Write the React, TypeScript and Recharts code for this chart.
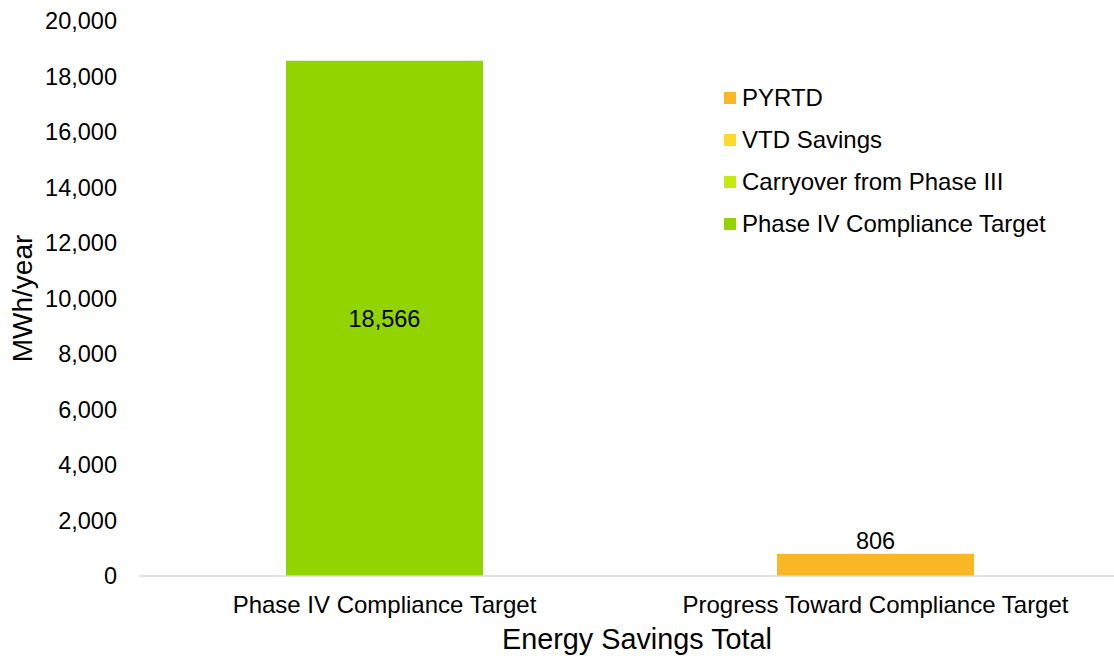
import React from 'react';
import { BarChart, Bar, XAxis, YAxis, Legend, LabelList, Label } from 'recharts';

const categories = ['Phase IV Compliance Target', 'Progress Toward Compliance Target'];
const phaseIVTarget = [18566, 0];
const carryover = [0, 0];
const vtdSavings = [0, 0];
const pyrtd = [0, 806];
const yTicks = [0, 2000, 4000, 6000, 8000, 10000, 12000, 14000, 16000, 18000, 20000];

const seriesDefs = [
  { key: 'phaseIV', name: 'Phase IV Compliance Target', color: '#92D400', values: phaseIVTarget },
  { key: 'carryover', name: 'Carryover from Phase III', color: '#C6E912', values: carryover },
  { key: 'vtd', name: 'VTD Savings', color: '#FDDA2C', values: vtdSavings },
  { key: 'pyrtd', name: 'PYRTD', color: '#F9B625', values: pyrtd },
];

const data = categories.map((c, i) => {
  const row: any = { category: c };
  seriesDefs.forEach((s) => (row[s.key] = s.values[i]));
  return row;
});

const FONT = '"Liberation Sans", Arial, Helvetica, sans-serif';
const fmt = (v: any) => Number(v).toLocaleString('en-US');
const labelFmt = (v: any) => (Number(v) > 0 ? fmt(v) : '');

const LegendContent = () => (
  <div style={{ fontFamily: FONT, fontSize: 24, color: '#000' }}>
    {[...seriesDefs].reverse().map((s) => (
      <div key={s.key} style={{ height: 42, display: 'flex', alignItems: 'center', whiteSpace: 'nowrap' }}>
        <span style={{ display: 'inline-block', width: 12, height: 12, background: s.color, marginRight: 6 }} />
        <span>{s.name}</span>
      </div>
    ))}
  </div>
);

const YTitle = (props: any) => {
  const vb = props.viewBox || {};
  const cy = vb.y + vb.height / 2;
  return (
    <text x={22} y={cy} transform={`rotate(-90, 22, ${cy})`} textAnchor="middle" dominantBaseline="central"
      style={{ fontFamily: FONT, fontSize: 28 }} fill="#000">
      MWh/year
    </text>
  );
};

const XTitle = (props: any) => {
  const vb = props.viewBox || {};
  const cx = vb.x + vb.width / 2 + 7;
  return (
    <text x={cx} y={vb.y + 63} textAnchor="middle" dominantBaseline="central"
      style={{ fontFamily: FONT, fontSize: 28.8 }} fill="#000">
      Energy Savings Total
    </text>
  );
};

export default function App() {
  return (
    <div style={{ position: 'fixed', left: 0, top: 0, width: 1114, height: 656, overflow: 'hidden', background: '#fff' }}>
      <BarChart width={1121} height={656} data={data} margin={{ top: 21, right: 0, left: 0, bottom: 0 }}
        style={{ fontFamily: FONT }}>
        <XAxis dataKey="category" height={80} tickLine={false} tickSize={0} tickMargin={20}
          axisLine={{ stroke: '#D9D9D9', strokeWidth: 1.5 }}
          tick={{ fill: '#000', fontSize: 24, fontFamily: FONT }}>
          <Label content={<XTitle />} />
        </XAxis>
        <YAxis width={139} domain={[0, 20000]} ticks={yTicks} tickFormatter={fmt} axisLine={false}
          tickLine={false} tickSize={0} tickMargin={22} interval={0}
          tick={{ fill: '#000', fontSize: 23.5, fontFamily: FONT }}>
          <Label content={<YTitle />} />
        </YAxis>
        <Legend layout="vertical" align="center" verticalAlign="middle" content={<LegendContent />}
          wrapperStyle={{ left: 724, top: 77, right: 'auto', bottom: 'auto', width: 'auto', height: 'auto' }} />
        {seriesDefs.map((s) => (
          <Bar key={s.key} dataKey={s.key} name={s.name} stackId="a" fill={s.color} barSize={197}
            isAnimationActive={false}>
            <LabelList dataKey={s.key} position={s.key === 'pyrtd' ? 'top' : 'center'} formatter={labelFmt}
              style={{ fontFamily: FONT, fontSize: 23.5, fill: '#000' }} />
          </Bar>
        ))}
      </BarChart>
    </div>
  );
}
